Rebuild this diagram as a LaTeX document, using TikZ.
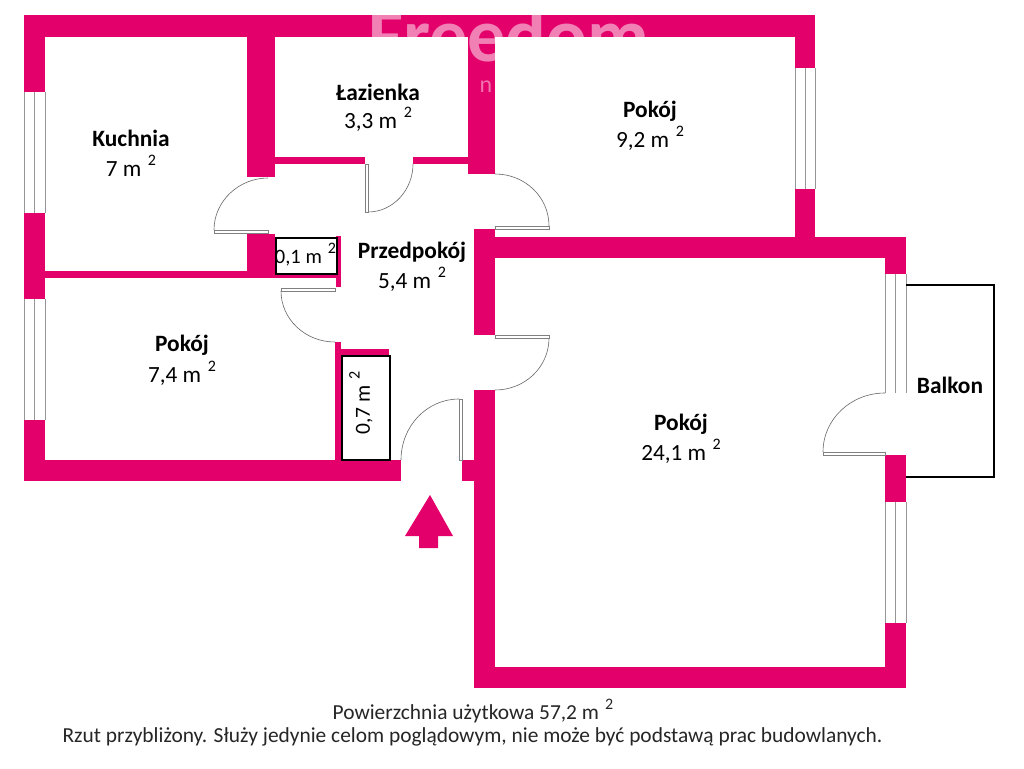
\documentclass[tikz,border=0pt]{standalone}
\usepackage{fontspec}
\setmainfont{Carlito}
\definecolor{wallc}{RGB}{227,0,106}
\definecolor{wing}{RGB}{150,150,150}
\tikzset{
  wall/.style={fill=wallc,draw=none},
  doorarc/.style={draw=black!60,line width=0.6pt},
  doorleaf/.style={draw=black!50,fill=white,line width=0.5pt},
  winline/.style={draw=wing,line width=1pt},
  closet/.style={draw=black,line width=1.9pt,fill=white},
  roomname/.style={font=\fontsize{23.4}{26}\bfseries\selectfont,align=center,inner sep=0pt},
  roomarea/.style={font=\fontsize{23.2}{26}\selectfont,inner sep=0pt},
  foot/.style={font=\fontsize{21.4}{24}\selectfont,inner sep=0pt,text=black!85}
}
\newcommand{\sq}{\,\raisebox{1.0ex}{\fontsize{16}{16}\selectfont\,2}}
\begin{document}
\begin{tikzpicture}[x=1pt,y=-1pt]
\useasboundingbox (0,0) rectangle (1024,768);
\fill[white] (0,0) rectangle (1024,768);
% walls
\fill[wall] (24,15) rectangle (815,37);
\fill[wall] (24,15) rectangle (45,92);
\fill[wall] (24,213) rectangle (45,299);
\fill[wall] (24,420) rectangle (45,481);
\fill[wall] (24,460) rectangle (401,481);
\fill[wall] (795,15) rectangle (815,68);
\fill[wall] (795,189) rectangle (815,258);
\fill[wall] (45,271) rectangle (275,278);
\fill[wall] (247,37) rectangle (275,177);
\fill[wall] (247,234) rectangle (275,278);
\fill[wall] (275,273) rectangle (341,278);
\fill[wall] (336,236) rectangle (341,287);
\fill[wall] (275,157) rectangle (365,164);
\fill[wall] (413,157) rectangle (468,164);
\fill[wall] (468,37) rectangle (495,174);
\fill[wall] (474,229) rectangle (495,335);
\fill[wall] (495,237) rectangle (906,258);
\fill[wall] (474,390) rectangle (495,688);
\fill[wall] (462,460) rectangle (474,481);
\fill[wall] (474,667) rectangle (906,688);
\fill[wall] (885,237) rectangle (906,274);
\fill[wall] (885,455) rectangle (906,502);
\fill[wall] (885,623) rectangle (906,688);
\fill[wall] (335,342) rectangle (341,460);
\fill[wall] (341,349) rectangle (389,355);
% watermark
\begin{scope}
\clip (370,15) rectangle (495,37) (468,37) rectangle (495,100) (495,15) rectangle (660,37);
\node[white,opacity=.5,font=\fontsize{76}{76}\bfseries\selectfont,anchor=base west,inner sep=0pt] (wm) at (368,61) {Freedom};
\node[white,opacity=.45,font=\fontsize{24}{24}\selectfont,anchor=base,inner sep=0pt] (wm2) at (486,92) {n};
\end{scope}
% windows
\foreach \x/\a/\b in {24/92/213,34.5/92/213,45/92/213,24/299/420,34.5/299/420,45/299/420,
  795/68/189,805/68/189,815/68/189,885/274/393,895.5/274/393,906/274/393,885/502/623,895.5/502/623,906/502/623}
  \draw[winline] (\x,\a) -- (\x,\b);
% doors
\draw[doorarc] (214,230) .. controls (214,201) and (239,178) .. (268,178);
\filldraw[doorleaf] (214,230) rectangle (268,233);
\draw[doorarc] (368,212) .. controls (393,212) and (413,190) .. (413,164);
\filldraw[doorleaf] (365,164) rectangle (368,212);
\draw[doorarc] (495,174) .. controls (525,174) and (549,197) .. (549,226);
\filldraw[doorleaf] (495,226) rectangle (549,229);
\draw[doorarc] (281,291) .. controls (281,319) and (305,342) .. (335,342);
\filldraw[doorleaf] (281,288) rectangle (335,291);
\draw[doorarc] (549,338) .. controls (549,367) and (525,390) .. (495,390);
\filldraw[doorleaf] (495,335) rectangle (549,338);
\draw[doorarc] (401,460) .. controls (401,426) and (427,399) .. (459,399);
\filldraw[doorleaf] (459,399) rectangle (462,460);
\draw[doorarc] (823,452) .. controls (823,419) and (851,393) .. (885,393);
\filldraw[doorleaf] (823,452) rectangle (885,455);
% closets
\node[closet,minimum width=61pt,minimum height=36pt,inner sep=0pt,anchor=north west] (c1) at (275,237) {};
\node[closet,minimum width=48pt,minimum height=104pt,inner sep=0pt,anchor=north west] (c2) at (341,355) {};
% balcony
\draw[line width=2pt,draw=black] (906,284.5) -- (994,284.5) -- (994,477) -- (906,477);
% arrow
\fill[wall] (430,495) -- (453,536) -- (438,536) -- (438,548) -- (419,548) -- (419,536) -- (405,536) -- cycle;
% labels
\node[roomname] (n1) at (131,138) {Kuchnia};
\node[roomarea] (a1) at (131,166) {7 m\sq};
\node[roomname] (n2) at (378,92) {Łazienka};
\node[roomarea] (a2) at (378,119) {3,3 m\sq};
\node[roomname] (n3) at (650,111) {Pokój};
\node[roomarea] (a3) at (650,138) {9,2 m\sq};
\node[roomname] (n4) at (412,252) {Przedpokój};
\node[roomarea] (a4) at (412,279) {5,4 m\sq};
\node[roomname] (n5) at (182,345) {Pokój};
\node[roomarea] (a5) at (182,373) {7,4 m\sq};
\node[roomname] (n6) at (681,424) {Pokój};
\node[roomarea] (a6) at (681,451) {24,1 m\sq};
\node[roomname] (n7) at (950,385) {Balkon};
\node[font=\fontsize{20.5}{22}\selectfont,inner sep=0pt] (a7) at (305.5,255) {0,1 m\sq};
\node[font=\fontsize{21.5}{24}\selectfont,inner sep=0pt,rotate=90] (a8) at (361,403) {0,7 m\sq};
\node[foot] (f1) at (473,711) {Powierzchnia użytkowa 57,2 m\sq};
\node[foot] (f2) at (472.5,737) {Rzut przybliżony. Służy jedynie celom poglądowym, nie może być podstawą prac budowlanych.};
\end{tikzpicture}
\end{document}
